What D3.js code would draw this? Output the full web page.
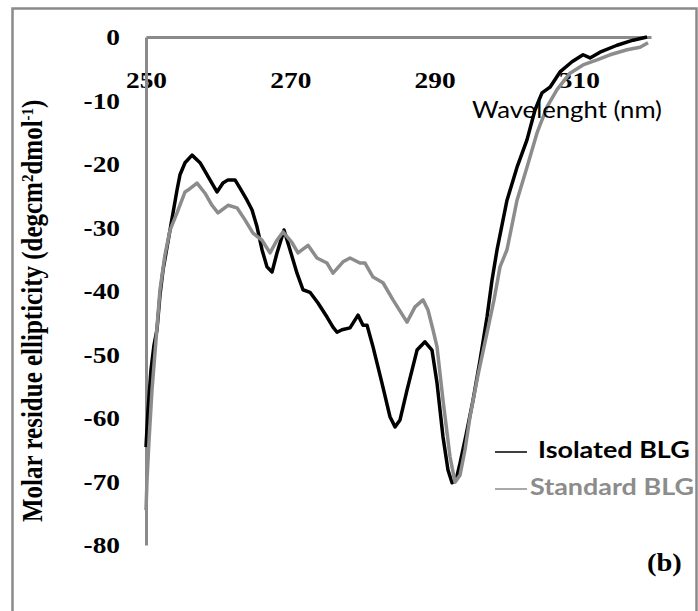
<!DOCTYPE html>
<html lang="en">
<head>
    <meta charset="UTF-8">
    <title>CD spectra BLG</title>
    <style>
        body { margin: 0; background: #fff; }
        svg { display: block; }
    </style>
</head>
<body>
    <div id="chart"></div>

    <script src="https://d3js.org/d3.v7.min.js"></script>
    <script>
        // values
        const nmIsolated = [250.0, 250.28, 250.69, 251.11, 251.52, 251.94, 252.36, 253.33, 254.3, 254.71, 255.41, 256.38,
            257.49, 258.87, 259.84, 260.67, 261.37, 262.34, 263.03, 264.0, 264.69, 265.39, 266.08, 266.77, 267.47,
            268.16, 269.13, 269.96, 270.93, 271.76, 272.73, 273.84, 275.09, 275.92, 276.48, 277.17, 278.28, 279.39,
            280.08, 280.64, 281.47, 282.71, 283.82, 284.52, 285.21, 286.18, 287.57, 288.67, 289.64, 290.34, 291.17,
            291.86, 292.42, 292.97, 293.53, 294.36, 295.33, 296.3, 297.27, 297.96, 298.66, 300.04, 301.43, 302.81,
            303.92, 304.89, 306.0, 307.39, 309.05, 310.58, 311.55, 312.93, 315.29, 317.51, 319.45];
        const valIsolated = [-64.6, -58.7, -52.4, -48.5, -46.1, -40.6, -36.7, -30.4, -24.1, -21.7, -19.8, -18.6,
            -19.8, -22.5, -24.4, -23.0, -22.5, -22.5, -23.8, -25.7, -27.2, -29.9, -33.5, -36.2, -37.0,
            -34.0, -30.4, -33.5, -37.2, -39.8, -40.2, -41.9, -44.1, -45.7, -46.5, -46.1, -45.8, -43.8,
            -45.4, -45.4, -48.8, -54.5, -59.8, -61.4, -60.3, -55.6, -49.3, -48.0, -49.3, -54.5, -63.0,
            -68.2, -70.2, -69.8, -67.1, -62.7, -57.2, -50.9, -44.1, -38.3, -33.5, -25.7, -20.5, -16.2,
            -11.5, -8.8, -7.9, -5.5, -3.9, -2.8, -3.3, -2.4, -1.3, -0.5, 0.0];

        const nmStandard = [250.0, 250.14, 250.42, 250.83, 251.39, 251.94, 252.63, 253.33, 254.3, 255.41, 255.82,
            257.07, 258.18, 259.15, 259.98, 261.37, 262.61, 263.72, 264.83, 266.08, 267.19, 268.16, 268.99, 270.24,
            271.07, 272.46, 273.7, 275.09, 275.92, 277.31, 278.28, 279.66, 280.36, 281.47, 282.85, 284.24, 286.18,
            287.29, 288.4, 289.09, 289.78, 290.34, 291.17, 292.14, 292.83, 293.53, 294.22, 294.91, 296.02, 297.27,
            298.24, 299.07, 300.04, 301.43, 302.81, 304.2, 305.59, 306.97, 308.77, 310.58, 312.52, 314.32, 316.68,
            318.48, 319.59];
        const valStandard = [-74.5, -69.8, -63.5, -55.6, -47.7, -39.8, -34.3, -30.4, -27.7, -24.4, -24.1,
            -23.0, -24.6, -26.5, -27.7, -26.5, -26.9, -28.8, -30.9, -32.0, -34.0, -32.0, -30.7, -32.4,
            -34.0, -32.8, -34.8, -35.6, -37.2, -35.4, -34.8, -35.6, -35.6, -37.8, -38.7, -41.4, -44.9,
            -42.5, -41.4, -43.0, -46.1, -48.8, -57.2, -66.1, -70.1, -69.0, -65.0, -59.8, -53.2, -46.6,
            -41.4, -36.2, -33.5, -25.7, -20.5, -15.1, -11.0, -8.3, -5.7, -4.4, -3.6, -2.8, -2.0,
            -1.6, -0.9];

        const xTicks = [250, 270, 290, 310];
        const yTicks = [0, -10, -20, -30, -40, -50, -60, -70, -80];
        const seriesNames = ["Isolated BLG", "Standard BLG"];
        const seriesColors = ["#000000", "#8c8c8c"];

        const W = 698, H = 611;
        const svg = d3.select("#chart").append("svg").attr("width", W).attr("height", H);

        // the source picture is a bit wider than tall, so text gets stretched sideways
        function stretch(sel, k) {
            sel.each(function() {
                const len = this.getComputedTextLength();
                d3.select(this).attr("textLength", len * k).attr("lengthAdjust", "spacingAndGlyphs");
            });
        }

        // outer frame (bottom edge falls outside the picture)
        svg.append("rect")
            .attr("x", 12.5).attr("y", 8.5)
            .attr("width", 684).attr("height", 620)
            .attr("fill", "none").attr("stroke", "#8a8a8a").attr("stroke-width", 2.5);

        const x = d3.scaleLinear().domain([250, 320]).range([146, 651]);
        const y = d3.scaleLinear().domain([-80, 0]).range([545, 37]);

        const serif = "'Liberation Serif', 'Times New Roman', serif";
        const sans = "Lato, 'Open Sans', sans-serif";

        // x axis sits on y = 0, labels below it
        const xAxis = svg.append("g")
            .attr("transform", "translate(0," + y(0) + ")")
            .call(d3.axisBottom(x).tickValues(xTicks).tickSize(0).tickPadding(34).tickFormat(function(d) { return String(d); }));

        const yAxis = svg.append("g")
            .attr("transform", "translate(" + x(250) + ",0)")
            .call(d3.axisLeft(y).tickValues(yTicks).tickSize(0).tickPadding(26).tickFormat(function(d) { return String(d); }));

        [xAxis, yAxis].forEach(function(ax) {
            ax.select(".domain").attr("stroke", "#8a8a8a").attr("stroke-width", 3);
            ax.selectAll("text")
                .attr("fill", "#000")
                .style("font-family", serif)
                .style("font-weight", "bold")
                .style("font-size", "24px")
                .call(stretch, 1.14);
        });

        const line = d3.line()
            .x(function(d) { return x(d[0]); })
            .y(function(d) { return y(d[1]); });

        const isolated = nmIsolated.map(function(n, i) { return [n, valIsolated[i]]; });
        const standard = nmStandard.map(function(n, i) { return [n, valStandard[i]]; });

        [isolated, standard].forEach(function(data, i) {
            svg.append("path")
                .datum(data)
                .attr("d", line)
                .attr("fill", "none")
                .attr("stroke", seriesColors[i])
                .attr("stroke-width", 3.5)
                .attr("stroke-linejoin", "round");
        });

        // y title, rotated; glyphs widened like the rest of the picture
        const yTitle = svg.append("text")
            .attr("transform", "translate(42,522) scale(1.15,1) rotate(-90)")
            .attr("text-anchor", "start")
            .style("font-family", serif)
            .style("font-weight", "bold")
            .style("font-size", "25px");
        yTitle.append("tspan").text("Molar residue ellipticity (degcm");
        yTitle.append("tspan").attr("baseline-shift", "super").style("font-size", "15px").text("2");
        yTitle.append("tspan").text("dmol");
        yTitle.append("tspan").attr("baseline-shift", "super").style("font-size", "15px").text("-1");
        yTitle.append("tspan").text(")");

        svg.append("text")
            .attr("x", 472).attr("y", 118)
            .style("font-family", sans)
            .style("font-size", "24px")
            .text("Wavelenght (nm)")
            .attr("textLength", 190)
            .attr("lengthAdjust", "spacingAndGlyphs");

        // legend
        const legend = svg.append("g");
        seriesNames.forEach(function(name, i) {
            const ly = 452 + i * 37;
            legend.append("line")
                .attr("x1", 495).attr("x2", 527)
                .attr("y1", ly).attr("y2", ly)
                .attr("stroke", seriesColors[i]).attr("stroke-width", 1.5);
            legend.append("text")
                .attr("x", i === 0 ? 538 : 530).attr("y", i === 0 ? 458 : 495)
                .attr("fill", seriesColors[i])
                .style("font-family", sans)
                .style("font-weight", "bold")
                .style("font-size", "23px")
                .text(name)
                .call(stretch, 1.17);
        });

        svg.append("text")
            .attr("x", 647).attr("y", 571)
            .style("font-family", serif)
            .style("font-weight", "bold")
            .style("font-size", "25px")
            .text("(b)")
            .call(stretch, 1.14);
    </script>
</body>
</html>
